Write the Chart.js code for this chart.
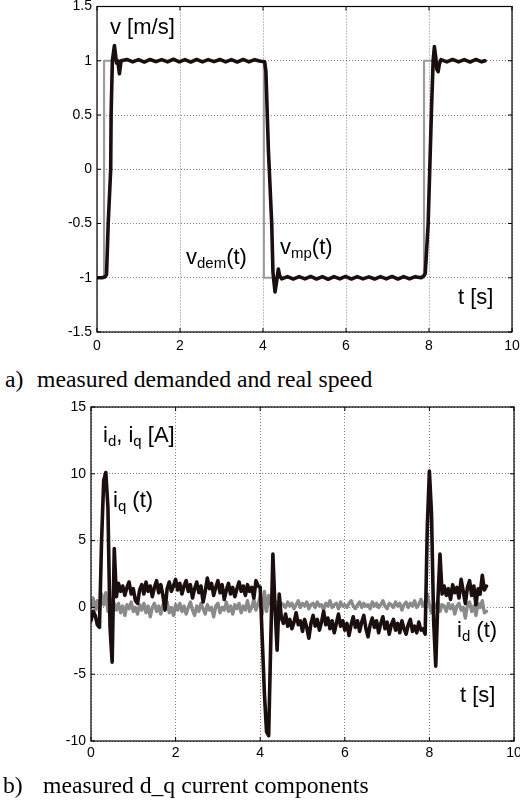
<!DOCTYPE html>
<html>
<head>
<meta charset="utf-8">
<script src="https://cdn.jsdelivr.net/npm/chart.js@4.4.0/dist/chart.umd.min.js"></script>
<style>
  html, body { margin: 0; padding: 0; background: #fff; overflow: hidden; }
  body { width: 520px; height: 809px; position: relative; }
  canvas { position: absolute; left: 0; }
  #speedChart { top: 0; }
  #currentChart { top: 365px; }
  .caption { position: absolute; left: 0; width: 520px; height: 24px; font-family: "Liberation Serif", "Times New Roman", serif; font-size: 23.7px; line-height: 24px; color: #000; white-space: nowrap; }
  .caption span { position: absolute; top: 0; }
</style>
</head>
<body>
<canvas id="speedChart" width="520" height="365"></canvas>
<div class="caption" style="top:367px"><span style="left:5px">a)</span><span style="left:37px">measured demanded and real speed</span></div>
<canvas id="currentChart" width="520" height="444"></canvas>
<div class="caption" style="top:773px"><span style="left:3px">b)</span><span style="left:43px">measured d_q current components</span></div>
<script>
// tick labels
const tTicks = [0, 2, 4, 6, 8, 10];
const vTicks = [-1.5, -1, -0.5, 0, 0.5, 1, 1.5];
const iTicks = [-10, -5, 0, 5, 10, 15];

// a) demanded speed (step) and measured speed
const vDemTime = [0, 0.17, 0.17, 4.02, 4.02, 7.88, 7.88, 9.35];
const vDemValues = [-1, -1, 1, 1, -1, -1, 1, 1];

const vMpTime = [
  0, 0.12, 0.2, 0.23, 0.27, 0.33, 0.34, 0.37, 0.42, 0.47, 0.5, 0.54, 0.58,
  0.72, 0.86, 1.0, 1.14, 1.28, 1.42, 1.56, 1.7, 1.84, 1.98, 2.12, 2.26,
  2.4, 2.54, 2.68, 2.82, 2.96, 3.1, 3.24, 3.38, 3.52, 3.66, 3.8, 3.94,
  4.04, 4.07, 4.13, 4.21, 4.24, 4.29, 4.33, 4.37, 4.4, 4.45,
  4.59, 4.73, 4.87, 5.01, 5.15, 5.29, 5.43, 5.57, 5.71, 5.85, 5.99, 6.13,
  6.27, 6.41, 6.55, 6.69, 6.83, 6.97, 7.11, 7.25, 7.39, 7.53, 7.67, 7.81,
  7.88, 7.91, 7.98, 8.06, 8.1, 8.13, 8.16, 8.19, 8.22, 8.25, 8.29,
  8.43, 8.57, 8.71, 8.85, 8.99, 9.13, 9.27, 9.35
];
const vMpValues = [
  -1.0, -1.0, -0.99, -0.97, -0.5, 0.0, 0.5, 1.0, 1.14, 0.98, 1.0, 0.88, 1.0,
  1.012, 0.99, 1.01, 0.988, 1.012, 0.992, 1.01, 0.99, 1.014, 0.99, 1.01, 0.988,
  1.012, 0.99, 1.01, 0.992, 1.012, 0.99, 1.01, 0.988, 1.012, 0.99, 1.01, 0.995,
  0.99, 0.9, 0.18, -0.5, -0.95, -1.13, -1.03, -0.92, -0.98, -1.01,
  -0.99, -1.012, -0.99, -1.01, -0.988, -1.012, -0.99, -1.014, -0.99, -1.01, -0.988, -1.012,
  -0.99, -1.01, -0.992, -1.012, -0.99, -1.01, -0.988, -1.012, -0.99, -1.01, -0.99, -1.0,
  -0.98, -0.96, -0.5, 0.55, 1.0, 1.13, 1.04, 0.92, 0.9, 0.97, 1.01,
  0.99, 1.012, 0.99, 1.01, 0.988, 1.012, 0.99, 1.0
];

// b) d/q current components, sampled every 0.05 s
const sampleTime = [
  0, 0.05, 0.1, 0.15, 0.2, 0.25, 0.3, 0.35, 0.4, 0.45, 0.5, 0.55, 0.6, 0.65, 0.7, 0.75, 0.8, 0.85, 0.9, 0.95,
  1, 1.05, 1.1, 1.15, 1.2, 1.25, 1.3, 1.35, 1.4, 1.45, 1.5, 1.55, 1.6, 1.65, 1.7, 1.75, 1.8, 1.85, 1.9, 1.95,
  2, 2.05, 2.1, 2.15, 2.2, 2.25, 2.3, 2.35, 2.4, 2.45, 2.5, 2.55, 2.6, 2.65, 2.7, 2.75, 2.8, 2.85, 2.9, 2.95,
  3, 3.05, 3.1, 3.15, 3.2, 3.25, 3.3, 3.35, 3.4, 3.45, 3.5, 3.55, 3.6, 3.65, 3.7, 3.75, 3.8, 3.85, 3.9, 3.95,
  4, 4.05, 4.1, 4.15, 4.2, 4.25, 4.3, 4.35, 4.4, 4.45, 4.5, 4.55, 4.6, 4.65, 4.7, 4.75, 4.8, 4.85, 4.9, 4.95,
  5, 5.05, 5.1, 5.15, 5.2, 5.25, 5.3, 5.35, 5.4, 5.45, 5.5, 5.55, 5.6, 5.65, 5.7, 5.75, 5.8, 5.85, 5.9, 5.95,
  6, 6.05, 6.1, 6.15, 6.2, 6.25, 6.3, 6.35, 6.4, 6.45, 6.5, 6.55, 6.6, 6.65, 6.7, 6.75, 6.8, 6.85, 6.9, 6.95,
  7, 7.05, 7.1, 7.15, 7.2, 7.25, 7.3, 7.35, 7.4, 7.45, 7.5, 7.55, 7.6, 7.65, 7.7, 7.75, 7.8, 7.85, 7.9, 7.95,
  8, 8.05, 8.1, 8.15, 8.2, 8.25, 8.3, 8.35, 8.4, 8.45, 8.5, 8.55, 8.6, 8.65, 8.7, 8.75, 8.8, 8.85, 8.9, 8.95,
  9, 9.05, 9.1, 9.15, 9.2, 9.25, 9.3, 9.35
];
const iqValues = [
  -1.0, -0.3, -0.6, -1.3, -1.5, 5.0, 9.5, 10.1, 7.5, -1.5, -4.1, 4.4, 0.8, 1.8, 1.2, 1.6, 0.9, 1.5, 1.9, 1.0,
  1.4, 0.5, 0.3, 1.3, 1.7, 1.0, 1.9, 1.2, 1.6, 0.8, 1.5, 2.0, 1.1, 1.7, 0.9, -0.2, 1.4, 1.9, 1.2, 1.6,
  2.1, 1.3, 1.8, 1.0, 1.6, 2.0, 1.2, 1.7, 0.7, 1.4, 1.9, 1.1, 1.6, 0.4, 1.2, 2.2, 1.4, 1.8, 0.9, 1.5,
  2.0, 1.1, 1.7, 0.6, 1.3, 1.8, 1.0, 1.5, 0.8, 1.4, 1.9, 1.2, 1.6, 0.9, 1.7, 1.2, 1.5, 0.7, 2.0, 1.6,
  1.5, -2.5, -6.5, -9.3, -9.6, -2.5, 4.0, 0.0, -3.2, 1.0, -0.8, -1.2, -0.5, -1.4, -0.9, -1.6, -1.1, -0.4, -1.3, -1.0,
  -1.8, -0.9, -1.5, -2.3, -1.2, -0.6, -1.4, -0.9, -1.7, -1.1, -0.3, -1.3, -0.8, -1.6, -1.0, -1.9, -1.2, -0.5, -1.4, -1.0,
  -1.7, -1.2, -2.1, -1.3, -0.7, -1.5, -1.0, -1.8, -1.1, -0.6, -1.6, -2.2, -1.3, -0.8, -1.5, -1.0, -1.9, -1.2, -0.7, -1.6,
  -1.1, -2.0, -1.3, -0.9, -1.7, -1.2, -1.9, -1.0, -1.6, -2.0, -1.3, -0.9, -1.8, -1.4, -1.9, -1.1, -1.7, -1.6, -2.0, 6.0,
  10.2, 7.0, -1.0, -4.4, 0.5, 4.0, 1.0, 1.6, 0.9, 1.4, 0.6, 1.7, 1.1, 1.5, 0.7, 2.1, 1.2, 0.3, 1.5, 2.0,
  0.9, 1.6, 0.2, 1.4, 1.0, 2.4, 1.3, 1.6
];
const idValues = [
  0.0, 0.7, -0.2, 0.5, -0.3, 1.0, 0.2, 1.1, -0.3, 0.6, -0.4, 0.3, -0.2, 0.3, -0.4, 0.1, -0.6, 0.2, -0.1, 0.4,
  -0.3, 0.0, -0.5, 0.2, -0.2, 0.3, -0.4, 0.1, -0.7, 0.0, 0.3, -0.3, 0.1, -0.5, 0.2, -0.1, 0.4, -0.4, 0.0, -0.6,
  0.2, -0.2, 0.3, -0.3, 0.1, -0.5, 0.0, 0.4, -0.2, -0.6, 0.1, -0.3, 0.3, -0.1, -0.5, 0.2, -0.2, 0.0, -0.7, 0.1,
  0.3, -0.4, 0.0, -0.2, 0.4, -0.3, 0.1, -0.5, 0.2, -0.1, 0.3, -0.4, 0.1, -0.2, 0.5, -0.3, 0.0, 0.6, -0.2, 0.3,
  0.8, -0.5, 1.2, -0.3, 0.9, 0.2, 0.6, -0.2, 0.4, 0.1, 0.3, 0.2, 0.0, 0.4, 0.1, 0.3, -0.1, 0.2, 0.5, 0.0,
  0.3, 0.1, 0.4, -0.1, 0.2, 0.3, 0.0, 0.4, 0.1, 0.2, -0.2, 0.3, 0.1, 0.5, 0.0, 0.2, 0.3, -0.1, 0.4, 0.1,
  0.2, 0.0, 0.3, 0.5, 0.1, -0.1, 0.2, 0.4, 0.0, 0.3, 0.1, 0.2, -0.1, 0.4, 0.1, 0.3, 0.0, 0.2, 0.5, 0.1,
  -0.1, 0.3, 0.2, 0.0, 0.4, 0.1, 0.3, -0.2, 0.2, 0.4, 0.0, 0.3, 0.1, 0.5, 0.0, 0.2, 0.6, 0.1, 0.4, 1.0,
  0.2, -0.4, 0.3, 0.0, 0.5, -0.3, 0.2, 0.1, -0.3, 0.3, -0.1, 0.2, -0.5, 0.1, 0.3, -0.2, 0.0, -0.8, 0.2, 0.4,
  -0.3, 0.1, -0.6, 0.3, 0.0, 0.5, -0.4, -0.3
];

const DARK = '#1a0e0e';
const GRID = 'rgba(0,0,0,0.5)';
const SANS = '"Liberation Sans", Arial, sans-serif';
const tickFont = { family: SANS, size: 14 };

Chart.defaults.color = '#000';
Chart.defaults.font.family = SANS;

const toPoints = (xs, ys) => xs.map((x, i) => ({ x: x, y: ys[i] }));
const plainLabel = v => String(v);

function timeAxis(height, pad) {
  return {
    type: 'linear', min: 0, max: 10,
    afterBuildTicks: s => { s.ticks = tTicks.map(v => ({ value: v })); },
    afterFit: s => { s.height = height; s.paddingLeft = 0; s.paddingRight = 0; },
    grid: { color: GRID, lineWidth: 1, drawTicks: false },
    border: { display: false, dash: [1, 2] },
    ticks: { padding: pad, font: tickFont, color: '#000', maxRotation: 0, autoSkip: false, callback: plainLabel }
  };
}

function valueAxis(list, width) {
  return {
    type: 'linear', min: list[0], max: list[list.length - 1],
    afterBuildTicks: s => { s.ticks = list.map(v => ({ value: v })); },
    afterFit: s => { s.width = width; s.paddingTop = 0; s.paddingBottom = 0; },
    grid: { color: GRID, lineWidth: 1, drawTicks: false },
    border: { display: false, dash: [1, 2] },
    ticks: { padding: 5, font: tickFont, color: '#000', autoSkip: false, callback: plainLabel }
  };
}

function drawRich(ctx, x, baseline, parts) {
  parts.forEach(p => {
    const sub = p[1] === 1;
    ctx.font = (sub ? '15px ' : '22px ') + SANS;
    ctx.fillText(p[0], x, baseline + (sub ? 4 : 0));
    x += ctx.measureText(p[0]).width;
  });
}

// box with inward ticks (matlab look) + text notes
const framePlugin = {
  id: 'figureFrame',
  afterDatasetsDraw(chart, args, opts) {
    const { ctx, chartArea: a, scales } = chart;
    ctx.save();
    ctx.strokeStyle = '#000';
    ctx.lineWidth = 1.2;
    ctx.strokeRect(a.left, a.top, a.right - a.left, a.bottom - a.top);
    ctx.beginPath();
    scales.x.ticks.forEach(t => {
      const px = scales.x.getPixelForValue(t.value);
      ctx.moveTo(px, a.bottom); ctx.lineTo(px, a.bottom - 4);
      ctx.moveTo(px, a.top); ctx.lineTo(px, a.top + 4);
    });
    scales.y.ticks.forEach(t => {
      const py = scales.y.getPixelForValue(t.value);
      ctx.moveTo(a.left, py); ctx.lineTo(a.left + 4, py);
      ctx.moveTo(a.right, py); ctx.lineTo(a.right - 4, py);
    });
    ctx.lineWidth = 1;
    ctx.stroke();
    ctx.fillStyle = '#000';
    ctx.textBaseline = 'alphabetic';
    ctx.textAlign = 'left';
    const top = chart.canvas.offsetTop;
    (opts.notes || []).forEach(n => drawRich(ctx, n.x, n.y - top, n.parts));
    ctx.restore();
  }
};

function baseOptions(padding, notes) {
  return {
    responsive: false,
    animation: false,
    events: [],
    layout: { padding: padding },
    elements: {
      point: { radius: 0 },
      line: { tension: 0, borderJoinStyle: 'round', borderCapStyle: 'round' }
    },
    plugins: {
      legend: { display: false },
      tooltip: { enabled: false },
      figureFrame: { notes: notes }
    }
  };
}

const speedOptions = baseOptions({ left: 0, right: 8, top: 6.5, bottom: 0 }, [
  { x: 110, y: 34, parts: [['v [m/s]']] },
  { x: 186, y: 264, parts: [['v'], ['dem', 1], ['(t)']] },
  { x: 280, y: 254, parts: [['v'], ['mp', 1], ['(t)']] },
  { x: 458, y: 304, parts: [['t [s]']] }
]);
speedOptions.scales = { x: timeAxis(33, 5.5), y: valueAxis(vTicks, 97) };

new Chart(document.getElementById('speedChart'), {
  type: 'line',
  data: {
    datasets: [
      { label: 'v_mp(t)', data: toPoints(vMpTime, vMpValues), borderColor: DARK, borderWidth: 3.6 },
      { label: 'v_dem(t)', data: toPoints(vDemTime, vDemValues), borderColor: '#9c9c9c', borderWidth: 2.2 }
    ]
  },
  options: speedOptions,
  plugins: [framePlugin]
});

const currentOptions = baseOptions({ left: 0, right: 6, top: 42, bottom: 0 }, [
  { x: 103, y: 442, parts: [['i'], ['d', 1], [', i'], ['q', 1], [' [A]']] },
  { x: 113, y: 507, parts: [['i'], ['q', 1], [' (t)']] },
  { x: 457, y: 637, parts: [['i'], ['d', 1], [' (t)']] },
  { x: 460, y: 702, parts: [['t [s]']] }
]);
currentOptions.scales = { x: timeAxis(68, 3.6), y: valueAxis(iTicks, 91) };

new Chart(document.getElementById('currentChart'), {
  type: 'line',
  data: {
    datasets: [
      { label: 'i_q(t)', data: toPoints(sampleTime, iqValues), borderColor: DARK, borderWidth: 3.6 },
      { label: 'i_d(t)', data: toPoints(sampleTime, idValues), borderColor: '#8a8a8a', borderWidth: 3.4 }
    ]
  },
  options: currentOptions,
  plugins: [framePlugin]
});
</script>
</body>
</html>
